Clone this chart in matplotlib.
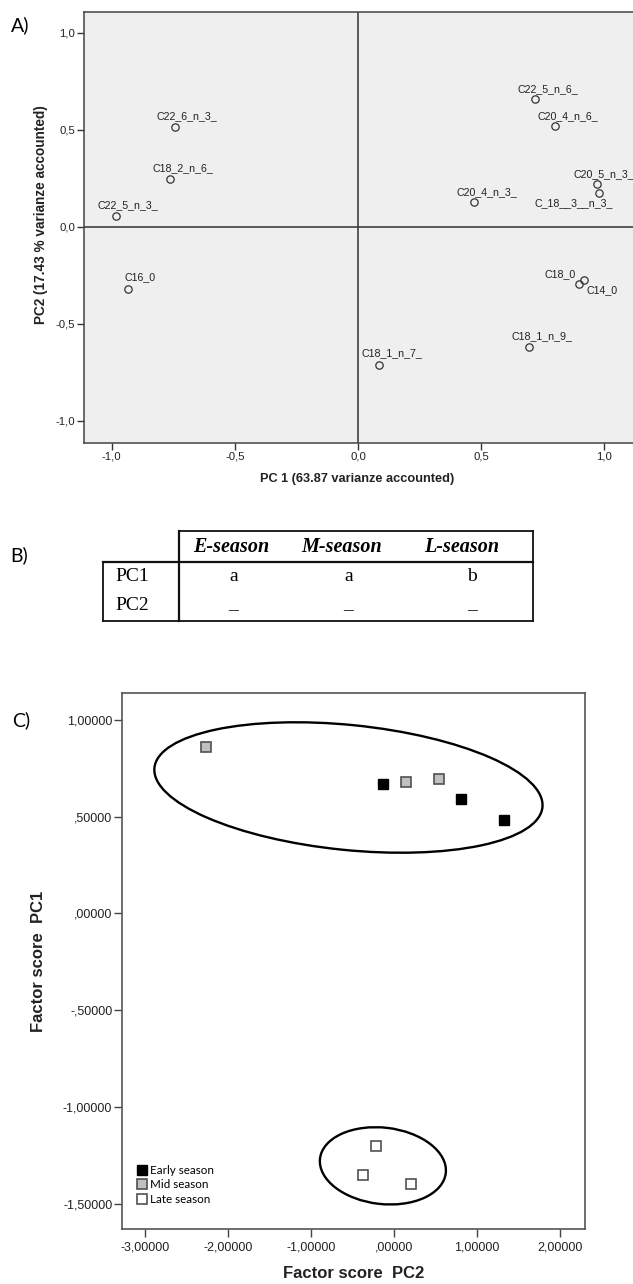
import matplotlib
matplotlib.use("Agg")
import matplotlib.pyplot as plt
from matplotlib.patches import Ellipse
from matplotlib.transforms import Affine2D
from matplotlib.lines import Line2D

# ---------------- data ----------------
# Panel A: PCA loadings
var_names = ["C22_6_n_3_", "C18_2_n_6_", "C22_5_n_3_", "C16_0", "C22_5_n_6_",
             "C20_4_n_6_", "C20_5_n_3_", "C_18__3__n_3_", "C20_4_n_3_", "C18_0",
             "C14_0", "C18_1_n_9_", "C18_1_n_7_"]
pc1_load = [-0.743, -0.762, -0.982, -0.934, 0.719, 0.800, 0.970, 0.980, 0.471, 0.899, 0.919, 0.695, 0.087]
pc2_load = [0.514, 0.246, 0.057, -0.320, 0.661, 0.519, 0.220, 0.174, 0.129, -0.295, -0.273, -0.617, -0.710]
a_xticks = [-1.0, -0.5, 0.0, 0.5, 1.0]
a_yticks = [-1.0, -0.5, 0.0, 0.5, 1.0]

# Panel B: table
b_cols = ["E-season", "M-season", "L-season"]
b_rows = ["PC1", "PC2"]
b_vals = [["a", "a", "b"], ["_", "_", "_"]]

# Panel C: factor scores
seasons = ["Early season", "Mid season", "Late season"]
early_pc2 = [-0.129, 0.804, 1.320]
early_pc1 = [0.671, 0.592, 0.481]
mid_pc2 = [-2.267, 0.147, 0.541]
mid_pc1 = [0.859, 0.679, 0.693]
late_pc2 = [-0.213, -0.369, 0.199]
late_pc1 = [-1.201, -1.354, -1.401]
c_xticks = [-3, -2, -1, 0, 1, 2]
c_yticks = [1.0, 0.5, 0.0, -0.5, -1.0, -1.5]

# ---------------- figure ----------------
W, H = 633, 1284
fig = plt.figure(figsize=(W / 100, H / 100), dpi=100)
fig.patch.set_facecolor("white")


def frac(l, t, r, b):
    return [l / W, 1 - b / H, (r - l) / W, (b - t) / H]


SANS = ["Liberation Sans", "DejaVu Sans"]

# ================= Panel A =================
axA = fig.add_axes(frac(84.4, 12, 640, 442.5))
axA.set_facecolor("#efefef")
axA.set_xlim(-1.111, 1.145)
axA.set_ylim(-1.111, 1.108)
for s in axA.spines.values():
    s.set_color("#444444")
    s.set_linewidth(1.1)
axA.axhline(0, color="#333333", lw=1.1, zorder=1)
axA.axvline(0, color="#333333", lw=1.1, zorder=1)
axA.plot(pc1_load, pc2_load, linestyle="none", marker="o", ms=5.3,
         mfc="none", mec="#333333", mew=0.9, zorder=3)
# label offsets (pixels: text-left dx, text-center dy)
lab_off = {"C22_6_n_3_": (-19, 11), "C18_2_n_6_": (-18, 11), "C22_5_n_3_": (-18.6, 11),
           "C16_0": (-3.3, 11.7), "C22_5_n_6_": (-18, 10), "C20_4_n_6_": (-18, 10.6),
           "C20_5_n_3_": (-23.4, 10), "C_18__3__n_3_": (-65, -10), "C20_4_n_3_": (-18, 9.7),
           "C18_0": (-35, 10), "C14_0": (2.4, -10), "C18_1_n_9_": (-18, 11),
           "C18_1_n_7_": (-18, 11.4)}
for name, x, y in zip(var_names, pc1_load, pc2_load):
    dx, dy = lab_off[name]
    axA.annotate(name, (x, y), xytext=(dx, dy), textcoords="offset pixels",
                 ha="left", va="center", fontsize=7.7, family=SANS, color="#222222",
                 annotation_clip=False)
axA.set_xticks(a_xticks)
axA.set_yticks(a_yticks)
axA.set_xticklabels([f"{v:.1f}".replace(".", ",") for v in a_xticks])
axA.set_yticklabels([f"{v:.1f}".replace(".", ",") for v in a_yticks])
axA.tick_params(direction="out", length=5, width=1, color="#333333",
                labelsize=8.2, labelcolor="#222222", pad=1.5)
for lbl in axA.get_xticklabels() + axA.get_yticklabels():
    lbl.set_family(SANS)
axA.set_xlabel("PC 1 (63.87 varianze accounted)", fontsize=9.2, fontweight="bold",
               family=SANS, color="#222222")
axA.set_ylabel("PC2 (17.43 % varianze accounted)", fontsize=9.8, fontweight="bold",
               family=SANS, color="#222222")
axA.xaxis.set_label_coords(0.49, -0.085)
axA.xaxis.label.set_va("center")
axA.yaxis.set_label_coords(-0.078, 0.53)
axA.yaxis.label.set_va("center")

# ================= Panel C =================
axC = fig.add_axes(frac(122, 693.3, 585, 1228.7))
axC.set_xlim(-3.277, 2.301)
axC.set_ylim(-1.630, 1.138)
for s in axC.spines.values():
    s.set_color("#555555")
    s.set_linewidth(1.2)
msz = 7.3
axC.plot(early_pc2, early_pc1, "s", ms=msz, mfc="black", mec="black", mew=1.0, zorder=3)
axC.plot(mid_pc2, mid_pc1, "s", ms=msz, mfc="#c0c0c0", mec="#505050", mew=1.2, zorder=3)
axC.plot(late_pc2, late_pc1, "s", ms=msz, mfc="white", mec="#505050", mew=1.2, zorder=3)


def cfmt(v):
    s = f"{abs(v):.5f}".replace(".", ",")
    if s.startswith("0,"):
        s = s[1:]
    return ("-" if v < 0 else "") + s


axC.set_xticks(c_xticks)
axC.set_yticks(c_yticks)
axC.set_xticklabels([cfmt(v) for v in c_xticks])
axC.set_yticklabels([cfmt(v) for v in c_yticks])
axC.tick_params(direction="out", length=5.5, width=1, color="#444444",
                labelsize=9, labelcolor="#222222")
axC.tick_params(axis="y", pad=1.5)
axC.tick_params(axis="x", pad=4)
for lbl in axC.get_xticklabels() + axC.get_yticklabels():
    lbl.set_family(SANS)
axC.set_xlabel("Factor score  PC2", fontsize=12, fontweight="bold", family=SANS, color="#222222")
axC.set_ylabel("Factor score  PC1", fontsize=12, fontweight="bold", family=SANS, color="#222222")
axC.xaxis.set_label_coords(0.5, -0.083)
axC.xaxis.label.set_va("center")
axC.yaxis.set_label_coords(-0.18, 0.5)
axC.yaxis.label.set_va("center")


def draw_ellipse(ax, cx, cy, w_px, h_px, ang):
    bb = ax.get_position()
    x0, x1 = ax.get_xlim()
    y0, y1 = ax.get_ylim()
    kx = bb.width * W / (x1 - x0)
    ky = bb.height * H / (y1 - y0)
    tr = Affine2D().scale(1 / kx, 1 / ky) + ax.transData
    ax.add_patch(Ellipse((cx * kx, cy * ky), w_px, h_px, angle=ang, transform=tr,
                         fill=False, lw=1.7, ec="black", zorder=2))


draw_ellipse(axC, -0.549, 0.651, 390, 125, -5.8)
draw_ellipse(axC, -0.134, -1.305, 126.6, 76.4, -6.6)

handles = [Line2D([], [], ls="none", marker="s", ms=7, mfc="black", mec="black", mew=1.0),
           Line2D([], [], ls="none", marker="s", ms=7, mfc="#c0c0c0", mec="#505050", mew=1.2),
           Line2D([], [], ls="none", marker="s", ms=7, mfc="white", mec="#505050", mew=1.2)]
leg = axC.legend(handles, seasons, loc="lower left", bbox_to_anchor=(0.035, 0.045),
                 frameon=False, handlelength=0.7, handletextpad=0.35, labelspacing=0.3,
                 borderaxespad=0, borderpad=0, prop={"family": ["Lato", "DejaVu Sans"], "size": 8.4})

# ================= overlay: panel letters + table (B) =================
ov = fig.add_axes([0, 0, 1, 1])
ov.set_xlim(0, W)
ov.set_ylim(H, 0)
ov.axis("off")
ov.patch.set_alpha(0)
LET = ["Lato", "DejaVu Sans"]
ov.text(11, 25, "A)", fontsize=14, family=LET, va="center", ha="left")
ov.text(10, 555, "B)", fontsize=14, family=LET, va="center", ha="left")
ov.text(12, 720, "C)", fontsize=14, family=LET, va="center", ha="left")

# table geometry (pixels)
tl, tdiv, tr_, ttop, thead, tbot = 103.4, 179, 533, 531, 562.3, 620.7
lw_t = 1.3
ov.plot([tdiv, tr_], [ttop, ttop], color="#111111", lw=lw_t)
ov.plot([tl, tr_], [thead, thead], color="#111111", lw=1.6)
ov.plot([tl, tr_], [tbot, tbot], color="#111111", lw=lw_t)
ov.plot([tl, tl], [thead, tbot], color="#111111", lw=lw_t)
ov.plot([tdiv, tdiv], [ttop, tbot], color="#111111", lw=1.6)
ov.plot([tr_, tr_], [ttop, tbot], color="#111111", lw=lw_t)
SERIF = ["Liberation Serif", "DejaVu Serif"]
head_x = [231.5, 341.5, 461.4]
val_x = [233.4, 348.5, 471.6]
row_y = [576.7, 605]
for cname, hx in zip(b_cols, head_x):
    ov.text(hx, 547, cname, fontsize=14.5, family=SERIF, fontweight="bold", style="italic",
            ha="center", va="center")
for rname, ry, rvals in zip(b_rows, row_y, b_vals):
    ov.text(115.5, ry, rname, fontsize=14, family=SERIF, ha="left", va="center")
    for v, vx in zip(rvals, val_x):
        ov.text(vx, ry, v, fontsize=14, family=SERIF, ha="center", va="center")

fig.savefig("out.png", dpi=100)
